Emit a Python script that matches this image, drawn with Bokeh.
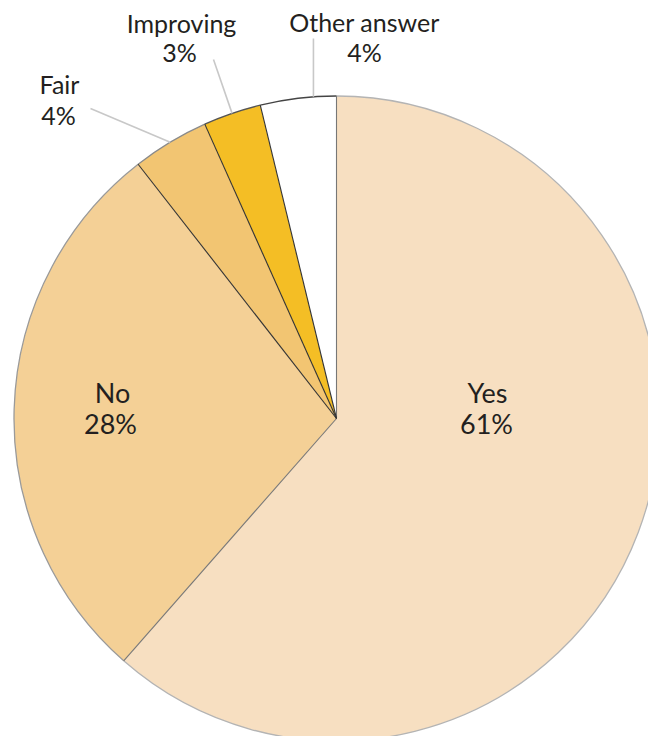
import math
from bokeh.plotting import figure
from bokeh.models import Range1d, ColumnDataSource
from bokeh.core.properties import value
from bokeh.embed import file_html
from bokeh.resources import INLINE

# ---- data (clockwise from 12 o'clock) ----
categories = ["Yes", "No", "Fair", "Improving", "Other answer"]
shares = [61.5, 28.0, 3.85, 2.9, 3.8]          # slice sizes
pct_labels = ["61%", "28%", "4%", "3%", "4%"]   # printed labels

# ---- styles / layout ----
colors = ["#F7DFC1", "#F4D096", "#F2C572", "#F4BE25", "#FFFFFF"]
arc_colors = ["#b4b4b4", "#9a9a9a", "#8a8a8a", "#555555", "#444444"]
R = 322.5
FONT = "Lato"
TXT = "#231f20"
DY = 11  # baseline correction
# label anchors (name baseline, percent baseline), pixel offsets from centre
label_pos = {
    "Yes": ((151, 15), (150, -16)),
    "No": ((-224, 15), (-226, -16)),
    "Fair": ((-277, 324), (-278, 293)),
    "Improving": ((-155, 385), (-157, 356)),
    "Other answer": ((28, 386), (28, 356)),
}
inside = {"Yes", "No"}
# leader lines: position inside slice (fraction), outer end offset
leaders = {
    "Fair": (0.5, (-246, 310)),
    "Improving": (0.5, (-123, 359)),
    "Other answer": (0.7, (None, 380)),
}

total = sum(shares)
cum = [0.0]
for s in shares:
    cum.append(cum[-1] + s / total)
start = [math.pi / 2 - 2 * math.pi * c for c in cum[:-1]]
end = [math.pi / 2 - 2 * math.pi * c for c in cum[1:]]

p = figure(width=648, height=736, x_range=Range1d(-336, 312), y_range=Range1d(-318, 418),
           min_border=0, toolbar_location=None, output_backend="svg")
p.axis.visible = False
p.grid.visible = False
p.outline_line_color = None
p.background_fill_color = "white"

src = ColumnDataSource(dict(cat=categories, start=start, end=end, color=colors, arc=arc_colors))
p.wedge(x=0, y=0, radius=R, start_angle="start", end_angle="end", direction="clock",
        fill_color="color", line_color=None, source=src)
p.arc(x=0, y=0, radius=R, start_angle="start", end_angle="end", direction="clock",
      line_color="arc", line_width=1.3, source=src)

# radial boundaries
bx, by, bc = [], [], []
for i, a in enumerate(start):
    bx.append(R * math.cos(a))
    by.append(R * math.sin(a))
    bc.append("#777777" if i < 2 else "#333333")
p.segment(x0=0, y0=0, x1=bx, y1=by, line_color=bc, line_width=1.1)

# leader lines
for cat, (frac, (ox, oy)) in leaders.items():
    i = categories.index(cat)
    a = start[i] + (end[i] - start[i]) * frac
    ix, iy = R * math.cos(a), R * math.sin(a)
    if ox is None:
        ox = ix
    p.segment(x0=[ix], y0=[iy], x1=[ox], y1=[oy], line_color="#c8c8c8", line_width=1.6)

# labels
for cat, pct in zip(categories, pct_labels):
    (nx, ny), (px, py) = label_pos[cat]
    size = "27px" if cat in inside else "25px"
    p.text(x=[nx], y=[ny + DY], text=[cat], text_align="center", text_baseline="alphabetic",
           text_font=value(FONT), text_font_size=size, text_color=TXT)
    p.text(x=[px], y=[py + DY], text=[pct], text_align="center", text_baseline="alphabetic",
           text_font=value(FONT), text_font_size=size, text_color=TXT)

open("out.html", "w").write(file_html(p, INLINE))
